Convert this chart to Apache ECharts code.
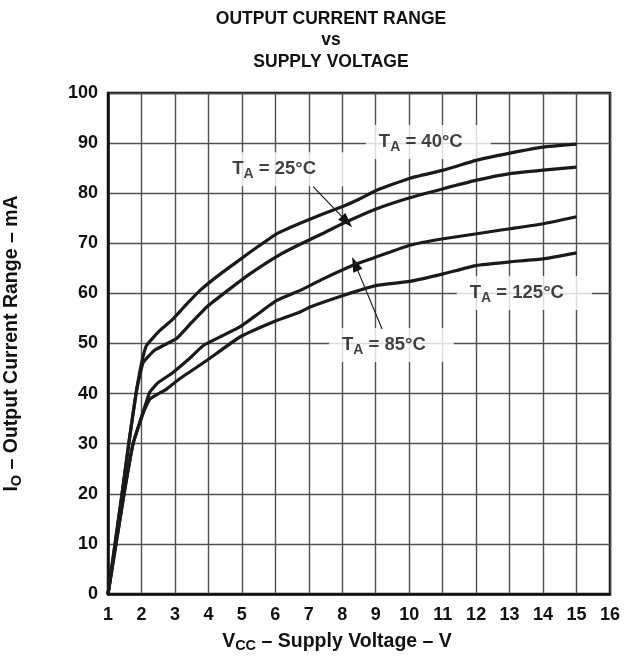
<!DOCTYPE html>
<html><head><meta charset="utf-8">
<script src="https://cdn.jsdelivr.net/npm/echarts@6/dist/echarts.min.js"></script>
<style>html,body{margin:0;padding:0;background:#fff}#c{width:643px;height:660px}</style>
</head><body><div id="c"></div>
<script>
// ---- data ----
const xMin = 1, xMax = 16, xStep = 1;
const yMin = 0, yMax = 100, yStep = 10;

const curve40 = [[1,0],[1.42,20],[1.62,30],[1.85,40.5],[2.0,46],[2.15,49.6],[2.55,52.6],[2.9,54.6],[3.3,57.5],[3.75,60.6],[4.3,63.6],[4.85,66.3],[5.45,69.2],[6.04,71.9],[6.74,74.0],[7.4,75.8],[8.03,77.4],[8.5,78.8],[9.03,80.6],[10.02,83.0],[11.02,84.6],[12.02,86.6],[13.01,88.0],[14.0,89.2],[15.0,89.8]];
const curve25 = [[1,0],[1.42,20],[1.62,30],[1.85,40.5],[2.05,46.2],[2.4,48.7],[3.05,51.0],[3.5,54.2],[3.95,57.3],[4.6,60.7],[5.24,63.9],[6.1,67.6],[6.74,69.8],[7.4,71.9],[8.03,74.0],[9.03,76.9],[10.02,79.1],[11.02,80.9],[12.02,82.6],[13.01,83.9],[14.0,84.6],[15.0,85.2]];
const curve85 = [[1,0],[1.48,20],[1.75,30],[2.05,36.3],[2.25,40.3],[2.5,42.2],[2.9,44.0],[3.4,46.8],[3.85,49.6],[4.4,51.5],[4.94,53.3],[5.5,56.0],[6.04,58.6],[6.74,60.6],[7.43,62.9],[8.43,65.9],[9.03,67.3],[10.02,69.6],[11.02,70.9],[12.02,71.9],[12.7,72.6],[13.01,72.9],[14.0,73.9],[15.0,75.3]];
const curve125 = [[1,0],[1.48,20],[1.75,30],[2.05,36.1],[2.25,38.9],[2.75,40.9],[3.15,43.0],[3.95,46.6],[4.94,51.3],[6.04,54.6],[6.74,56.3],[7.04,57.3],[8.03,59.6],[9.03,61.6],[10.02,62.4],[11.02,63.9],[12.02,65.6],[13.01,66.3],[14.0,66.9],[15.0,68.1]];

const labelTemps = ['40°C','25°C','125°C','85°C'];
const labelPos = [[10.57,90.2],[6.19,84.8],[13.44,60.1],[9.47,49.7]];
const arrowFrom = [[7.13,81.3],[9.19,52.9]];
const arrowTo = [[8.14,74.3],[8.38,65.9]];

const titleLines = ['OUTPUT CURRENT RANGE','vs','SUPPLY VOLTAGE'];
const FONT = '"Liberation Sans", Arial, Helvetica, sans-serif';

// ---- chart ----
const chart = echarts.init(document.getElementById('c'), null, {renderer:'canvas'});

const lineSeries = (name, data) => ({
  name, type:'line', data, showSymbol:false, smooth:0.12, z:5,
  lineStyle:{color:'#1a1a1a', width:3.2, join:'round'}, animation:false, silent:true
});

const mkRich = (fs, ss) => ({
  t:{fontSize:fs, fontWeight:'bold', fontFamily:FONT, color:'#111', lineHeight:22},
  s:{fontSize:ss, fontWeight:'bold', fontFamily:FONT, color:'#111', lineHeight:22, padding:[10,0,0,0]}
});

chart.setOption({
  backgroundColor:'#fff',
  animation:false,
  title:{
    text: titleLines.join('\n'),
    left: 326, textAlign:'center', top: 3,
    textStyle:{fontSize:17.5, fontWeight:'bold', fontFamily:FONT, color:'#111', lineHeight:21.5}
  },
  grid:{left:108, top:93, width:502, height:501, show:true, borderColor:'#111', borderWidth:2.5,
        backgroundColor:'transparent', containLabel:false, outerBoundsMode:'none'},
  xAxis:{
    type:'value', min:xMin, max:xMax, interval:xStep,
    axisLine:{show:true, lineStyle:{color:'#111', width:2.5}},
    axisTick:{show:false},
    splitLine:{show:true, lineStyle:{color:'#505050', width:1.4}},
    axisLabel:{fontSize:18, fontWeight:'bold', fontFamily:FONT, color:'#111', margin:12},
    name:'{t|V}{s|CC}{t| – Supply Voltage – V}',
    nameLocation:'middle', nameGap:36,
    nameTextStyle:{rich:mkRich(19.5,14.5), padding:[0,44,0,0]}
  },
  yAxis:{
    type:'value', min:yMin, max:yMax, interval:yStep,
    axisLine:{show:true, lineStyle:{color:'#111', width:2.5}},
    axisTick:{show:false},
    splitLine:{show:true, lineStyle:{color:'#505050', width:1.4}},
    axisLabel:{fontSize:18, fontWeight:'bold', fontFamily:FONT, color:'#111', margin:10},
    name:'{t|I}{s|O}{t| – Output Current Range – mA}',
    nameLocation:'middle', nameGap:85,
    nameTextStyle:{rich:mkRich(19.5,14.5)}
  },
  series:[
    lineSeries('40', curve40),
    lineSeries('25', curve25),
    lineSeries('85', curve85),
    lineSeries('125', curve125),
    {
      type:'scatter', symbolSize:0, z:4, silent:true, animation:false,
      data: labelPos.map((p,i)=>({value:p})),
      label:{
        show:true, position:'inside',
        formatter: p => '{t|T}{s|A}{t| = ' + labelTemps[p.dataIndex] + '}',
        backgroundColor:'#fff', padding:[6,28,6,13],
        rich:mkRich(18.5,14)
      },
      markLine:{
        silent:true, animation:false, symbolSize:[10,15],
        lineStyle:{color:'#111', width:1.1, type:'solid'},
        label:{show:false},
        data: arrowFrom.map((f,i)=>[{coord:f, symbol:'none'},{coord:arrowTo[i], symbol:'triangle'}])
      }
    }
  ]
});
</script></body></html>
